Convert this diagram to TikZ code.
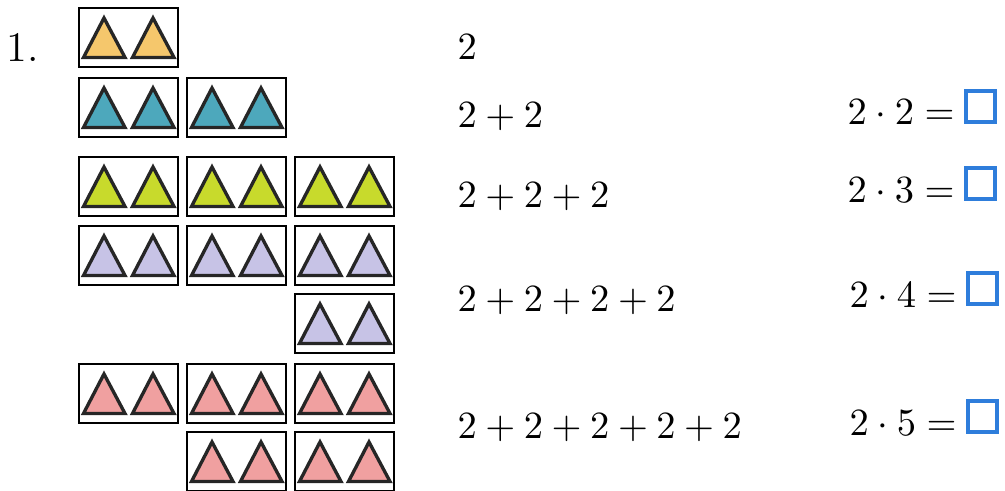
\documentclass[tikz,border=0pt]{standalone}
\usepackage{tikz}
\usetikzlibrary{positioning}
\definecolor{triorange}{HTML}{F5C76C}
\definecolor{triteal}{HTML}{4DA8BC}
\definecolor{trigreen}{HTML}{C8DA2C}
\definecolor{trililac}{HTML}{C7C3E6}
\definecolor{tripink}{HTML}{F0A0A0}
\definecolor{ansblue}{HTML}{2E7DDB}
\tikzset{
  boxline/.style={
    line width=0.7pt
  },
  triline/.style={
    line width=0.95pt,
    draw=black!85
  },
  pairbox/.pic={
    \draw[boxline] (0,0) rectangle (0.99,-0.59);
    \path[pic actions, triline] (0.045,-0.495) -- (0.46,-0.495) -- (0.25,-0.10) -- cycle;
    \path[pic actions, triline] (0.535,-0.495) -- (0.95,-0.495) -- (0.74,-0.10) -- cycle;
  },
  sum/.style={
    anchor=base west,
    inner sep=0pt
  },
  answer/.style={
    draw=ansblue,
    line width=1pt,
    minimum width=0.29cm,
    minimum height=0.31cm,
    inner sep=0pt,
    anchor=south west
  }
}

\begin{document}
\begin{tikzpicture}[font=\fontsize{10.5}{12}\selectfont]
                \useasboundingbox (0,0) rectangle (10.05,-4.91);

                \node[sum, font=\fontsize{12}{14}\selectfont] (num) at (0.06,-0.62) {1.};

                \pic[fill=triorange] at (0.79,-0.08) {pairbox};

                \pic[fill=triteal] at (0.79,-0.78) {pairbox};
                \pic[fill=triteal] at (1.87,-0.78) {pairbox};

                \pic[fill=trigreen] at (0.79,-1.57) {pairbox};
                \pic[fill=trigreen] at (1.87,-1.57) {pairbox};
                \pic[fill=trigreen] at (2.95,-1.57) {pairbox};

                \pic[fill=trililac] at (0.79,-2.26) {pairbox};
                \pic[fill=trililac] at (1.87,-2.26) {pairbox};
                \pic[fill=trililac] at (2.95,-2.26) {pairbox};
                \pic[fill=trililac] at (2.95,-2.94) {pairbox};

                \pic[fill=tripink] at (0.79,-3.64) {pairbox};
                \pic[fill=tripink] at (1.87,-3.64) {pairbox};
                \pic[fill=tripink] at (2.95,-3.64) {pairbox};
                \pic[fill=tripink] at (1.87,-4.32) {pairbox};
                \pic[fill=tripink] at (2.95,-4.32) {pairbox};

                \node[sum] (s1) at (4.57,-0.60) {$2$};
                \node[sum] (s2) at (4.57,-1.27) {$2+2$};
                \node[sum] (s3) at (4.57,-2.08) {$2+2+2$};
                \node[sum] (s4) at (4.57,-3.11) {$2+2+2+2$};
                \node[sum] (s5) at (4.57,-4.38) {$2+2+2+2+2$};

                \node[sum] (p2) at (8.47,-1.25) {$2\cdot 2={}$};
                \node[sum] (p3) at (8.47,-2.02) {$2\cdot 3={}$};
                \node[sum] (p4) at (8.49,-3.07) {$2\cdot 4={}$};
                \node[sum] (p5) at (8.49,-4.35) {$2\cdot 5={}$};

                \node[answer] (b2) at ([xshift=-0.02cm,yshift=0.01cm]p2.base east) {};
                \node[answer] (b3) at ([xshift=-0.02cm,yshift=0.01cm]p3.base east) {};
                \node[answer] (b4) at ([xshift=-0.02cm,yshift=0.01cm]p4.base east) {};
                \node[answer] (b5) at ([xshift=-0.02cm,yshift=0.01cm]p5.base east) {};
\end{tikzpicture}
\end{document}
